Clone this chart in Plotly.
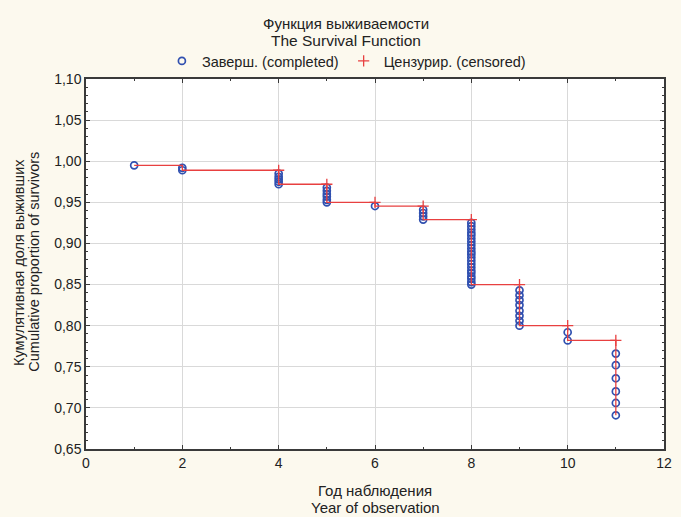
import plotly.graph_objects as go

# Event times (years) and the survival level after the events at each time
event_years = [1, 2, 4, 5, 6, 7, 8, 9, 10, 11]
survival_levels = [0.995, 0.989, 0.972, 0.950, 0.9455, 0.929, 0.850, 0.800, 0.782, 0.691]

# Cumulative proportion at each completed case, grouped by year
completed_by_year = {
    1: [0.995],
    2: [0.992, 0.989],
    4: [0.985, 0.981, 0.978, 0.975, 0.972],
    5: [0.968, 0.964, 0.960, 0.957, 0.953, 0.950],
    6: [0.9455],
    7: [0.941, 0.937, 0.933, 0.929],
    8: [0.925, 0.921, 0.917, 0.913, 0.910, 0.906, 0.902, 0.898, 0.894, 0.890,
        0.887, 0.883, 0.879, 0.875, 0.871, 0.867, 0.864, 0.860, 0.857, 0.853, 0.850],
    9: [0.843, 0.837, 0.831, 0.825, 0.818, 0.812, 0.806, 0.800],
    10: [0.792, 0.782],
    11: [0.766, 0.752, 0.736, 0.720, 0.706, 0.691],
}

# Censored cases
censored_years = [4, 5, 6, 7, 8, 9, 10, 11]
censored_levels = [0.989, 0.972, 0.950, 0.9455, 0.929, 0.850, 0.800, 0.782]

x_ticks = [0, 2, 4, 6, 8, 10, 12]
y_ticks = [0.65, 0.70, 0.75, 0.80, 0.85, 0.90, 0.95, 1.00, 1.05, 1.10]

title_lines = ["Функция выживаемости", "The Survival Function"]
x_title_lines = ["Год наблюдения", "Year of observation"]
y_title_lines = ["Кумулятивная доля выживших", "Cumulative proportion of survivors"]

comp_x = [yr for yr, vals in completed_by_year.items() for _ in vals]
comp_y = [v for vals in completed_by_year.values() for v in vals]

FONT = "Liberation Sans, Arial, sans-serif"
TEXT = "#222222"
BLUE = "#3050b0"
RED = "#e84040"

fig = go.Figure()

fig.add_trace(go.Scatter(
    x=comp_x, y=comp_y, mode="markers",
    name="Заверш. (completed)",
    marker=dict(symbol="circle-open", size=7, color=BLUE, line=dict(width=1.7, color=BLUE)),
))

fig.add_trace(go.Scatter(
    x=event_years, y=survival_levels, mode="lines",
    line=dict(shape="hv", color=RED, width=1.3),
    showlegend=False, hoverinfo="skip",
))

fig.add_trace(go.Scatter(
    x=censored_years, y=censored_levels, mode="markers",
    name="Цензурир. (censored)",
    marker=dict(symbol="cross-thin", size=8, color=RED, line=dict(width=1.3, color=RED)),
))

axis_common = dict(
    showline=True, linecolor="#3a3a3a", linewidth=1.5, mirror="allticks",
    ticks="inside", ticklen=4, tickcolor="#3a3a3a", tickwidth=1,
    showgrid=True, gridcolor="#d9d9d9", gridwidth=1, zeroline=False,
    tickfont=dict(family=FONT, size=14, color=TEXT),
)

fig.update_xaxes(
    range=[0, 12], tickvals=x_ticks, ticktext=[str(t) for t in x_ticks],
    minor=dict(ticks="inside", ticklen=2, dtick=1, tickcolor="#3a3a3a", showgrid=False),
    **axis_common,
)
fig.update_yaxes(
    range=[0.65, 1.10], tickvals=y_ticks, tickformat=".2f",
    minor=dict(ticks="inside", ticklen=2, dtick=0.01, tickcolor="#3a3a3a", showgrid=False),
    **axis_common,
)

# Plot area spans pixels x 86..672, y 79..449
L, R, T, B = 86, 672, 79, 449


def px_x(p):
    return (p - L) / (R - L)


def px_y(p):
    return (B - p) / (B - T)


def label(text, x, y, size, angle=0):
    return dict(text=text, xref="paper", yref="paper", x=x, y=y,
                xanchor="center", yanchor="middle", showarrow=False,
                textangle=angle, font=dict(family=FONT, size=size, color=TEXT))


annotations = [
    label(title_lines[0], px_x(350), px_y(23), 15),
    label(title_lines[1], px_x(350), px_y(41), 15.5),
    label(x_title_lines[0], 0.5, px_y(490), 15),
    label(x_title_lines[1], 0.5, px_y(507), 15),
    label(y_title_lines[0], px_x(18), px_y(262), 14.5, -90),
    label(y_title_lines[1], px_x(33), px_y(262), 14.5, -90),
]

fig.update_layout(
    width=681, height=517,
    margin=dict(l=L, r=681 - R, t=T, b=517 - B),
    paper_bgcolor="#fcf9ee", plot_bgcolor="#ffffff",
    separators=", ",
    font=dict(family=FONT, size=14, color=TEXT),
    legend=dict(
        orientation="h", x=px_x(350), xanchor="center", y=px_y(61), yanchor="middle",
        bgcolor="rgba(0,0,0,0)", font=dict(family=FONT, size=14.5, color=TEXT),
        itemwidth=30, tracegroupgap=0,
    ),
    annotations=annotations,
)

fig.write_html("out.html")
